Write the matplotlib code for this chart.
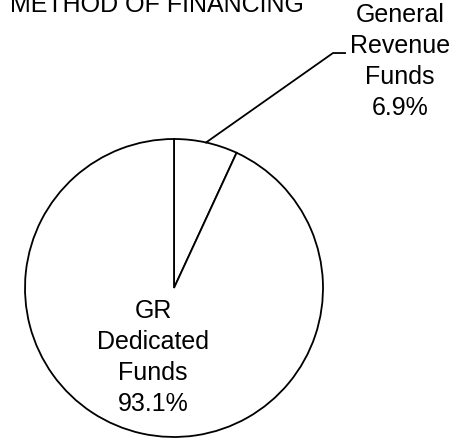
import numpy as np
import matplotlib
matplotlib.use('Agg')
import matplotlib.pyplot as plt

plt.rcParams['font.family'] = ['Liberation Sans', 'DejaVu Sans']

# Data
labels = ['General\nRevenue\nFunds', 'GR\nDedicated\nFunds']
shares = [6.9, 93.1]
title = 'METHOD OF FINANCING'

fig = plt.figure(figsize=(4.65, 4.4), dpi=100)
# pie centre ~ (174, 288) px, radius ~149 px
ax = fig.add_axes([25 / 465, 3 / 440, 298 / 465, 298 / 440])

wedges, _ = ax.pie(shares, startangle=90, counterclock=False,
                   colors=['white', 'white'],
                   wedgeprops=dict(edgecolor='black', linewidth=1.3))
ax.set_xlim(-1, 1)
ax.set_ylim(-1, 1)
ax.set_aspect('equal')
ax.axis('off')

# small slice label with leader line
w = wedges[0]
mid = np.deg2rad((w.theta1 + w.theta2) / 2)
ax.plot([np.cos(mid), 1.067, 1.148], [np.sin(mid), 1.577, 1.577],
        color='black', lw=1.3, clip_on=False)
ax.text(1.517, 1.523, f'{labels[0]}\n{shares[0]:.1f}%', ha='center', va='center',
        fontsize=18, linespacing=1.37, clip_on=False)

# big slice label inside
ax.text(-0.141, -0.466, f'{labels[1]}\n{shares[1]:.1f}%', ha='center', va='center',
        fontsize=18, linespacing=1.37)

fig.text(10 / 465, (440 - 12) / 440, title, ha='left', va='baseline', fontsize=18)

fig.savefig('out.png', dpi=100)
